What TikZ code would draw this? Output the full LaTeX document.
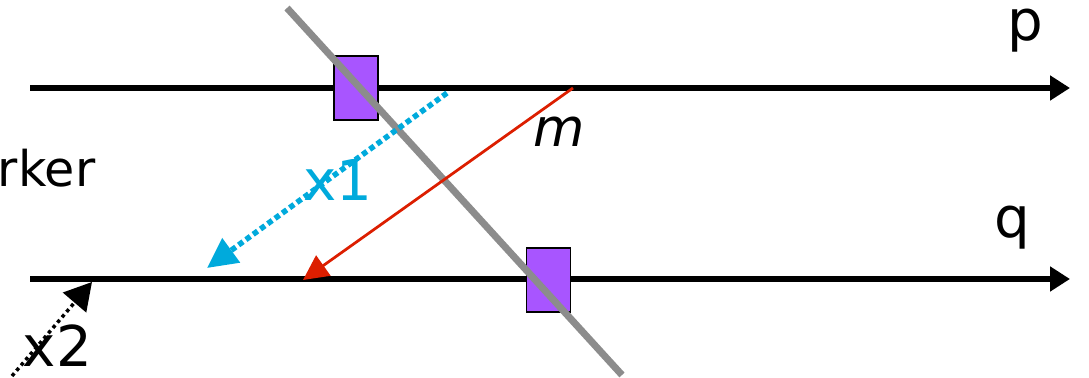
\documentclass[tikz,border=0pt]{standalone}
\usepackage{fontspec}
\setmainfont{DejaVu Sans}
\usetikzlibrary{arrows.meta,positioning}
\definecolor{regcyan}{RGB}{0,170,220}
\definecolor{regred}{RGB}{220,30,0}
\definecolor{regpurple}{RGB}{168,85,255}
\definecolor{cutgray}{RGB}{140,140,140}
\tikzset{
  wireline/.style={line width=1.15mm,-{Triangle[length=4.0mm,width=4.8mm]}},
  regbox/.style={draw,fill=regpurple,line width=0.3mm,minimum width=8.8mm,minimum height=12.8mm,inner sep=0pt},
  cutline/.style={cutgray,line width=1.4mm},
  lbl/.style={font=\fontsize{32}{36}\selectfont,inner sep=0pt},
  every picture/.style={line cap=butt,line join=miter}
}

\begin{document}
\begin{tikzpicture}
  \useasboundingbox (0,0) rectangle (21.78,7.56);
  % wires
  \coordinate (pstart) at (0.6,5.80);
  \coordinate (pend) at (21.4,5.80);
  \coordinate (qstart) at (0.6,1.98);
  \coordinate (qend) at (21.4,1.98);
  \draw[wireline] (pstart) -- (pend);
  \draw[wireline] (qstart) -- (qend);
  % registers
  \node[regbox] (rp) at (7.12,5.80) {};
  \node[regbox] (rq) at (10.97,1.96) {};
  % cut
  \coordinate (cuttop) at (5.74,7.40);
  \coordinate (cutbot) at (12.44,0.06);
  \draw[cutline] (cuttop) -- (cutbot);
  % paths
  \coordinate (mfrom) at (11.46,5.80);
  \coordinate (mto) at (6.06,1.96);
  \draw[regred,line width=0.55mm,-{Triangle[length=5mm,width=4.9mm]}] (mfrom) -- (mto);
  \coordinate (xafrom) at (8.94,5.70);
  \coordinate (xato) at (4.14,2.20);
  \draw[regcyan,line width=1.1mm,dotted,-{Triangle[length=6mm,width=5.8mm]}] (xafrom) -- (xato);
  \coordinate (xbfrom) at (0.24,0.04);
  \coordinate (xbto) at (1.84,1.92);
  \draw[line width=0.7mm,dotted,-{Triangle[length=5.4mm,width=6mm]}] (xbfrom) -- (xbto);
  % labels
  \node[lbl] (lp) at (20.5,6.95) {p};
  \node[lbl] (lq) at (20.24,3.0) {q};
  \node[lbl,font=\fontsize{30}{34}\selectfont\itshape] (lm) at (11.18,4.92) {m};
  \node[lbl,text=regcyan] (lx1) at (6.76,3.96) {x1};
  \node[lbl] (lx2) at (1.15,0.64) {x2};
  \node[lbl,font=\fontsize{28}{32}\selectfont,anchor=west] (lrk) at (-0.05,4.2) {rker};
\end{tikzpicture}
\end{document}
